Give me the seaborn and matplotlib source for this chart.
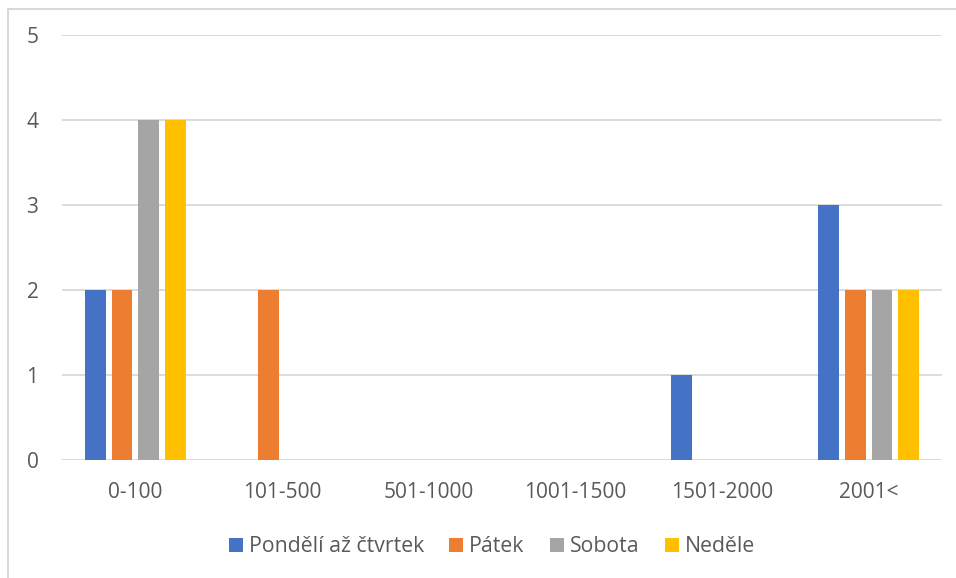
import pandas as pd
import matplotlib.pyplot as plt
import seaborn as sns
from matplotlib.lines import Line2D

categories = ['0-100', '101-500', '501-1000', '1001-1500', '1501-2000', '2001<']
series_names = ['Pondělí až čtvrtek', 'Pátek', 'Sobota', 'Neděle']
mon_thu = [2, 0, 0, 0, 1, 3]
friday = [2, 2, 0, 0, 0, 2]
saturday = [4, 0, 0, 0, 0, 2]
sunday = [4, 0, 0, 0, 0, 2]
colors = ['#4472C4', '#ED7D31', '#A5A5A5', '#FFC000']

df = pd.DataFrame({'kategorie': categories,
                   series_names[0]: mon_thu,
                   series_names[1]: friday,
                   series_names[2]: saturday,
                   series_names[3]: sunday})
df = df.melt(id_vars='kategorie', var_name='den', value_name='pocet')

sns.set_theme(style='white')
plt.rcParams['font.family'] = ['Open Sans', 'DejaVu Sans']
text_color = '#595959'
grid_color = '#D9D9D9'

fig = plt.figure(figsize=(9.56, 5.78), dpi=100)
ax = fig.add_axes([62 / 956, 1 - 460 / 578, 880 / 956, 425 / 578])

sns.barplot(data=df, x='kategorie', y='pocet', hue='den', order=categories,
            hue_order=series_names, palette=colors, width=0.73, gap=0.22,
            linewidth=0, saturation=1, ax=ax, zorder=3)

ax.set_ylim(0, 5)
ax.set_yticks(range(0, 6))
ax.set_xlim(-0.5, len(categories) - 0.5)
ax.grid(axis='y', color=grid_color, linewidth=1.3, zorder=0)
for s in ax.spines.values():
    s.set_visible(False)
ax.tick_params(axis='both', length=0, labelsize=15, labelcolor=text_color)
ax.tick_params(axis='y', pad=17)
ax.tick_params(axis='x', pad=16)
ax.set_xlabel('')
ax.set_ylabel('')

handles, labels = ax.get_legend_handles_labels()
ax.legend_.remove()
fig.legend(handles, labels, loc='center', bbox_to_anchor=(492 / 956, 1 - 547 / 578),
           ncol=4, frameon=False, fontsize=15.3, labelcolor=text_color,
           handlelength=0.66, handleheight=0.66, handletextpad=0.28, columnspacing=1.2)

# chart frame (only top and left edges visible in the crop)
fig.add_artist(Line2D([7.5 / 956, 7.5 / 956], [0, 1 - 9 / 578], color=grid_color,
                      linewidth=1.5, transform=fig.transFigure))
fig.add_artist(Line2D([7.5 / 956, 1], [1 - 9 / 578, 1 - 9 / 578], color=grid_color,
                      linewidth=1.5, transform=fig.transFigure))

fig.savefig('out.png', dpi=100, facecolor='white')
